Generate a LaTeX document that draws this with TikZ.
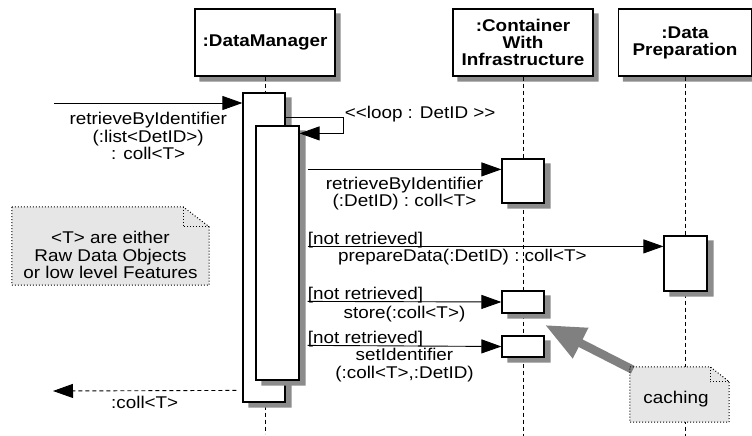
\documentclass[tikz,border=0pt]{standalone}
\usepackage{fontspec}
\setmainfont[FakeStretch=1.11]{Liberation Sans}
\usetikzlibrary{arrows.meta,positioning,calc}
\definecolor{shadegray}{HTML}{8C8C8C}
\definecolor{notefill}{HTML}{E6E6E6}
\definecolor{hint}{HTML}{808080}
% folded corner of a note: node, fold width, fold height
\newcommand{\notecorner}[3]{%
  \fill[white] ([xshift=-#2]#1.north east) -- (#1.north east) -- ([yshift=-#3]#1.north east) -- cycle;
  \draw[notefrm] (#1.north west) -- ([xshift=-#2]#1.north east) -- ([yshift=-#3]#1.north east) -- (#1.south east) -- (#1.south west) -- cycle;
  \draw[notefrm] ([xshift=-#2]#1.north east) |- ([yshift=-#3]#1.north east);}
% shadow strips right of and below a box: node, x offset
\newcommand{\shadowof}[2]{%
  \fill[shadegray] ([shift={(0.6pt,-5pt)}]#1.north east) -- ([shift={(#2,-5pt)}]#1.north east) -- ([shift={(#2,-5pt)}]#1.south east) -- ([shift={(#2,-5pt)}]#1.south west) -- ([shift={(#2,-0.6pt)}]#1.south west) -- ([shift={(0.6pt,-0.6pt)}]#1.south east) -- cycle;}

\begin{document}
\begin{tikzpicture}[x=1pt, y=-1pt, >=Stealth, font=\fontsize{17}{17.5}\selectfont,
  obj/.style={draw, line width=1.2pt, fill=white, align=center, font=\fontsize{17}{17}\selectfont\bfseries, minimum width=140pt, minimum height=67pt, inner sep=0pt},
  act/.style={draw, line width=1.2pt, fill=white, minimum width=42pt, inner sep=0pt},
  life/.style={dash pattern=on 4pt off 3pt, line width=1pt},
  msg/.style={line width=0.9pt, -{Triangle[length=20pt,width=14pt]}},
  ret/.style={msg, dash pattern=on 4pt off 3pt},
  lbl/.style={inner sep=1pt, align=center},
  guard/.style={inner sep=0pt, anchor=base west, yshift=2pt},
  notefrm/.style={dotted, line width=1pt},
  note/.style={fill=notefill, inner sep=0pt},
  hintarrow/.style={draw=hint, line width=8.5pt, -{Triangle[length=40pt,width=32pt,fill=hint]}}]
\useasboundingbox (0,0) rectangle (752,436);

% objects and lifelines
\node[obj] (dm) at (265,42.5) {:DataManager};
\node[obj] (ci) at (523,42.5) {:Container\\With\\Infrastructure};
\node[obj, minimum width=133pt] (dp) at (685,42.5) {:Data\\Preparation};
\shadowof{dm}{5pt} \shadowof{ci}{5pt} \shadowof{dp}{5pt}
\draw[life] (dm.south) -- ++(0,357);
\draw[life] (ci.south) -- ++(0,360);
\draw[life] (dp.south) -- ++(0,360);

% activations
\node[act, minimum height=309pt] (dmA) at (264,247.5) {};
\shadowof{dmA}{6pt}
\node[act, minimum width=43pt, minimum height=254pt] (dmB) at (277.5,253) {};
\shadowof{dmB}{6pt}
\node[act, minimum height=44pt] (ciA) at (523,181) {};
\node[act, minimum width=43pt, minimum height=55pt] (dpA) at (685.5,263.5) {};
\node[act, minimum height=22pt] (ciB) at (523,302) {};
\node[act, minimum height=21pt] (ciC) at (523,346.5) {};
\shadowof{ciA}{6pt} \shadowof{dpA}{6pt} \shadowof{ciB}{6pt} \shadowof{ciC}{6pt}

% messages
\coordinate (caller) at (54,103);
\draw[msg] (caller) -- (caller -| dmA.west) node[lbl, midway, below=8pt] {retrieveByIdentifier\\(:list<DetID>)\\: coll<T>};
\draw[msg] ([yshift=-25pt]dmA.north east) -- ++(58,0) coordinate (loopc) |- ([yshift=-8pt]dmB.north east);
\node[lbl, anchor=west] (looplbl) at ([yshift=3pt]loopc) {<\kern0pt<loop : DetID >\kern0pt>};
\draw[msg] ([shift={(8pt,-44pt)}]dmB.north east) -- ([yshift=-11pt]ciA.north west) node[lbl, midway, below=6pt] {retrieveByIdentifier\\(:DetID) : coll<T>};
\draw[msg] ([shift={(8pt,-121pt)}]dmB.north east) coordinate (g1) -- ([yshift=-11pt]dpA.north west) node[lbl, pos=0.435, below=1pt] {prepareData(:DetID) : coll<T>};
\node[guard] (g1lbl) at (g1) {[not retrieved]};
\draw[msg] ([shift={(8pt,-176pt)}]dmB.north east) coordinate (g2) -- (ciB.west) node[lbl, midway, below=3pt] {store(:coll<T>)};
\node[guard] (g2lbl) at (g2) {[not retrieved]};
\draw[msg] ([shift={(8pt,-220pt)}]dmB.north east) coordinate (g3) -- (ciC.west) node[lbl, midway, below=1pt] {setIdentifier\\(:coll<T>,:DetID)};
\node[guard] (g3lbl) at (g3) {[not retrieved]};
\coordinate (back) at (53,391);
\draw[ret] ([shift={(-6pt,-298pt)}]dmA.north west) -- (back) node[lbl, midway, below=4pt] {:coll<T>};

% notes
\coordinate (cachetip) at (545,325);
\node[note, minimum width=197pt, minimum height=78pt] (tnote) at (110.5,246) {};
\notecorner{tnote}{26pt}{20pt}
\node[lbl] (ttext) at ([yshift=-9pt]tnote.center) {<T> are either\\Raw Data Objects\\or low level Features};
\node[note, minimum width=99pt, minimum height=55pt] (cnote) at (679.5,394.5) {};
\draw[hintarrow] ([shift={(3pt,-3pt)}]cnote.north west) -- (cachetip);
\notecorner{cnote}{19pt}{15pt}
\node[lbl] (ctext) at ([shift={(-3.5pt,-4.5pt)}]cnote.center) {caching};
\end{tikzpicture}
\end{document}
